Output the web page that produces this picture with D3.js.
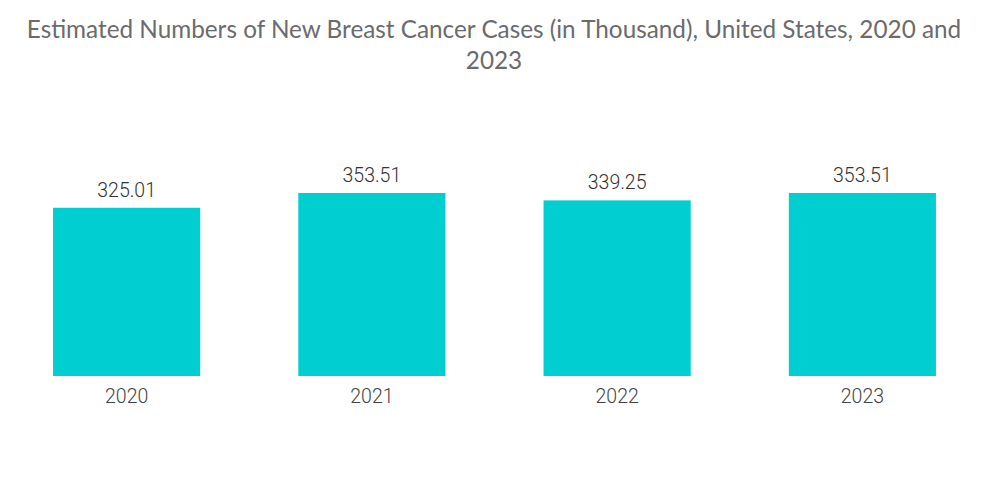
<!DOCTYPE html>
<html>
<head>
<meta charset="utf-8">
<script src="https://cdn.jsdelivr.net/npm/d3@7"></script>
<style>
  html, body { margin: 0; padding: 0; background: #fff; }
  svg { display: block; }
</style>
</head>
<body>
<svg id="chart" width="1000" height="504"></svg>
<script>
const categories = ["2020", "2021", "2022", "2023"];
const values = [325.01, 353.51, 339.25, 353.51];
const valueLabels = ["325.01", "353.51", "339.25", "353.51"];
const titleLines = [
  "Estimated Numbers of New Breast Cancer Cases (in Thousand), United States, 2020 and",
  "2023"
];

const svg = d3.select("#chart");
const baseY = 376;

const x = d3.scaleBand()
  .domain(categories)
  .range([4, 985])
  .paddingInner(0.4)
  .paddingOuter(0.2);

const y = d3.scaleLinear()
  .domain([0, 353.51])
  .range([baseY, 193]);

// Title
svg.append("g")
  .selectAll("text")
  .data(titleLines)
  .join("text")
  .attr("x", 494)
  .attr("y", (d, i) => 38 + i * 31)
  .attr("text-anchor", "middle")
  .attr("font-family", "Lato, 'Open Sans', sans-serif")
  .attr("font-size", 24.3)
  .attr("fill", "#6b6b6b")
  .text(d => d);

// Bars
svg.append("g")
  .selectAll("rect")
  .data(values)
  .join("rect")
  .attr("x", (d, i) => x(categories[i]))
  .attr("width", x.bandwidth())
  .attr("y", d => y(d))
  .attr("height", d => baseY - y(d))
  .attr("fill", "#00CED1");

// Value labels
svg.append("g")
  .selectAll("text")
  .data(values)
  .join("text")
  .attr("x", (d, i) => x(categories[i]) + x.bandwidth() / 2)
  .attr("y", d => y(d) - 11)
  .attr("text-anchor", "middle")
  .attr("font-family", "Roboto, sans-serif")
  .attr("font-weight", 300)
  .attr("font-size", 19.5)
  .attr("fill", "#333")
  .text((d, i) => valueLabels[i]);

// X axis
const xAxis = svg.append("g")
  .attr("transform", `translate(0,${baseY})`)
  .call(d3.axisBottom(x).tickSize(0).tickPadding(13));
xAxis.select(".domain").remove();
xAxis.selectAll("text")
  .attr("font-family", "Roboto, sans-serif")
  .attr("font-weight", 300)
  .attr("font-size", 19.5)
  .attr("fill", "#444");
</script>
</body>
</html>
